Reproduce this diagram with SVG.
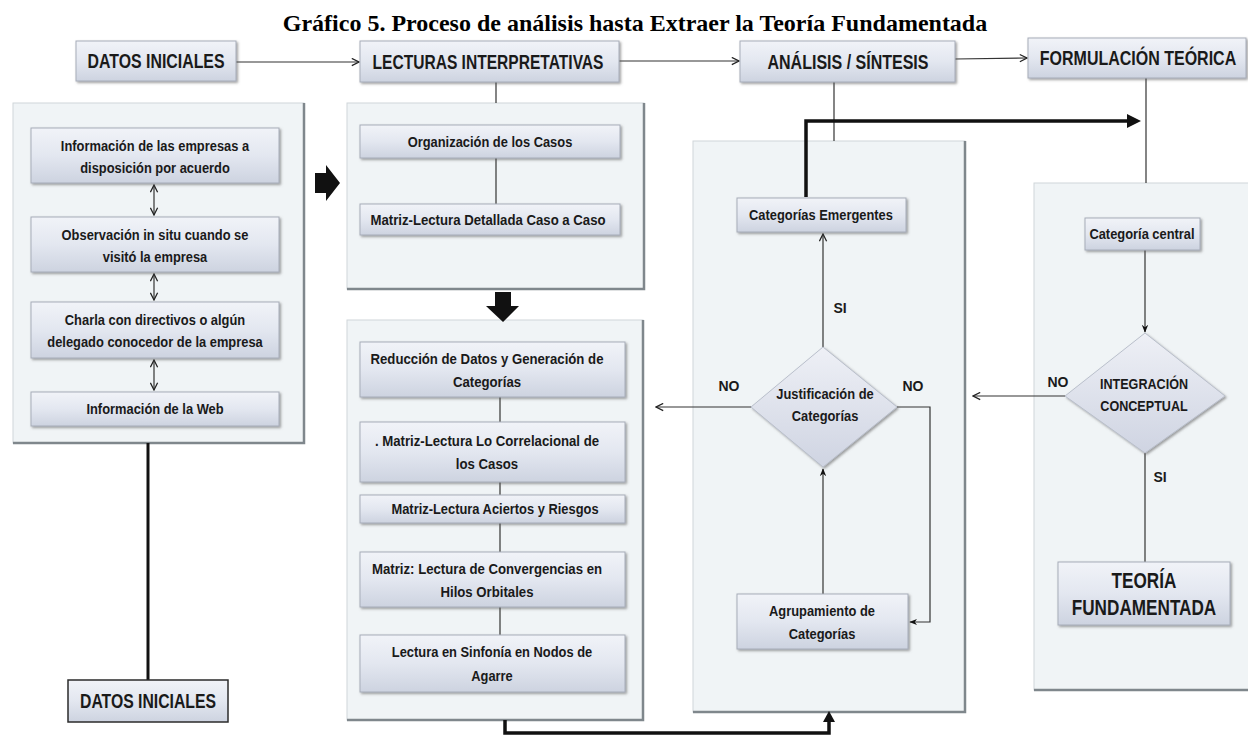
<svg xmlns="http://www.w3.org/2000/svg" width="1248" height="738" viewBox="0 0 1248 738">
  <defs>
    <linearGradient id="boxFill" x1="0" y1="0" x2="0" y2="1">
      <stop offset="0" stop-color="#f1f3f8"/>
      <stop offset="0.5" stop-color="#e3e7f0"/>
      <stop offset="1" stop-color="#cdd3e0"/>
    </linearGradient>
    <linearGradient id="diaFill" x1="0" y1="0" x2="0" y2="1">
      <stop offset="0" stop-color="#eef0f6"/>
      <stop offset="1" stop-color="#cfd4e2"/>
    </linearGradient>
    <filter id="shadow" x="-10%" y="-10%" width="120%" height="130%">
      <feDropShadow dx="1.5" dy="1.5" stdDeviation="1" flood-color="#555" flood-opacity="0.55"/>
    </filter>
    <marker id="arrowOpen" viewBox="0 0 10 10" refX="9" refY="5" markerWidth="9" markerHeight="9" orient="auto-start-reverse" markerUnits="userSpaceOnUse">
      <path d="M1,1 L9,5 L1,9" fill="none" stroke="#222" stroke-width="1.4"/>
    </marker>
    <marker id="arrowSolid" viewBox="0 0 10 10" refX="9" refY="5" markerWidth="8" markerHeight="8" orient="auto-start-reverse" markerUnits="userSpaceOnUse">
      <path d="M0,1 L10,5 L0,9 L3,5 Z" fill="#111"/>
    </marker>
  </defs>
  <style>
    .title { font-family: "Liberation Serif", "Times New Roman", serif; font-weight: bold; font-size: 24px; fill: #000; }
    .hdr { font-family: "Liberation Sans", Arial, sans-serif; font-weight: bold; font-size: 20px; fill: #1a1a1a; text-anchor: middle; }
    .t text { font-family: "Liberation Sans", Arial, sans-serif; font-weight: bold; font-size: 15px; fill: #1a1a1a; text-anchor: middle; }
    .big text { font-family: "Liberation Sans", Arial, sans-serif; font-weight: bold; font-size: 22px; fill: #1a1a1a; text-anchor: middle; }
    .lbl { font-family: "Liberation Sans", Arial, sans-serif; font-weight: bold; font-size: 14px; fill: #1a1a1a; text-anchor: middle; }
    .box { fill: url(#boxFill); stroke: #a7adb9; stroke-width: 1; filter: url(#shadow); }
    .boxDark { fill: url(#boxFill); stroke: #2b2b2b; stroke-width: 1.5; }
    .panel { fill: #f0f4f6; stroke: #cfd5d9; stroke-width: 1; }
    .pedge { fill: none; stroke: #7f878c; stroke-width: 2.5; }
    .dia { fill: url(#diaFill); stroke: #b9bfcb; stroke-width: 1; filter: url(#shadow); }
    .thin { fill: none; stroke: #333; stroke-width: 1.2; }
    .thick { fill: none; stroke: #111; stroke-width: 3.5; }
  </style>

  <rect width="1248" height="738" fill="#ffffff"/>

  <text class="title" x="635" y="31" text-anchor="middle">Gráfico 5. Proceso de análisis hasta Extraer la Teoría Fundamentada</text>

  <!-- panels -->
  <g id="panel-datos">
    <rect class="panel" x="13" y="103" width="291" height="340"/>
    <path class="pedge" d="M304,103 V443 H13"/>
  </g>
  <g id="panel-lecturas-1">
    <rect class="panel" x="347" y="103" width="297" height="186"/>
    <path class="pedge" d="M644,103 V289 H347"/>
  </g>
  <g id="panel-lecturas-2">
    <rect class="panel" x="347" y="320" width="296" height="400"/>
    <path class="pedge" d="M643,320 V720 H347"/>
  </g>
  <g id="panel-analisis">
    <rect class="panel" x="693" y="141" width="272" height="571"/>
    <path class="pedge" d="M965,141 V712 H693"/>
  </g>
  <g id="panel-formulacion">
    <rect class="panel" x="1034" y="183" width="220" height="507"/>
    <path class="pedge" d="M1034,690 H1248"/>
  </g>

  <!-- connectors -->
  <g id="connectors">
    <line class="thin" x1="236" y1="62" x2="359" y2="62" marker-end="url(#arrowOpen)"/>
    <line class="thin" x1="619" y1="61" x2="739" y2="61" marker-end="url(#arrowOpen)"/>
    <line class="thin" x1="955" y1="59" x2="1027" y2="58" marker-end="url(#arrowOpen)"/>

    <line class="thin" x1="496" y1="82" x2="496" y2="103"/>
    <line class="thin" x1="496" y1="158" x2="496" y2="204"/>
    <line class="thin" x1="834" y1="82" x2="834" y2="141"/>
    <line class="thin" x1="1146" y1="78" x2="1146" y2="183"/>

    <!-- double arrows in the data panel -->
    <line class="thin" x1="154" y1="185" x2="154" y2="215" marker-start="url(#arrowOpen)" marker-end="url(#arrowOpen)"/>
    <line class="thin" x1="154" y1="274" x2="154" y2="300" marker-start="url(#arrowOpen)" marker-end="url(#arrowOpen)"/>
    <line class="thin" x1="154" y1="360" x2="154" y2="390" marker-start="url(#arrowOpen)" marker-end="url(#arrowOpen)"/>

    <line x1="148" y1="443" x2="148" y2="680" stroke="#111" stroke-width="3"/>

    <!-- chain inside the lower reading panel -->
    <line class="thin" x1="500" y1="397" x2="500" y2="422"/>
    <line class="thin" x1="500" y1="482" x2="500" y2="495"/>
    <line class="thin" x1="500" y1="523" x2="500" y2="552"/>
    <line class="thin" x1="500" y1="607" x2="500" y2="635"/>

    <!-- block arrows -->
    <path d="M315,173 H326 V165 L340,183 L326,201 V193 H315 Z" fill="#111"/>
    <path d="M495,292 H511 V306 H519 L503,322 L486,306 H495 Z" fill="#111"/>

    <!-- bottom return bracket -->
    <polyline class="thick" points="505,720 505,733 829,733 829,716"/>
    <path d="M823,722 L829,711 L835,722 Z" fill="#111"/>

    <!-- emergent categories to theoretical formulation -->
    <polyline class="thick" points="806,197 806,121 1128,121"/>
    <path d="M1127,114 L1141,121 L1127,128 Z" fill="#111"/>

    <!-- analysis flow -->
    <line class="thin" x1="823" y1="347" x2="823" y2="234" marker-end="url(#arrowOpen)"/>
    <line class="thin" x1="751" y1="407" x2="656" y2="407" marker-end="url(#arrowOpen)"/>
    <polyline class="thin" points="897,407 930,407 930,622 910,622" marker-end="url(#arrowSolid)"/>
    <line class="thin" x1="823" y1="594" x2="823" y2="469" marker-end="url(#arrowSolid)"/>

    <!-- formulation flow -->
    <line class="thin" x1="1145" y1="250" x2="1145" y2="332" marker-end="url(#arrowSolid)"/>
    <line class="thin" x1="1065" y1="396" x2="973" y2="396" marker-end="url(#arrowOpen)"/>
    <line class="thin" x1="1145" y1="453" x2="1145" y2="562"/>
  </g>

  <!-- header nodes -->
  <g id="hdr-datos">
    <rect class="box" x="76" y="41" width="160" height="40"/>
    <text class="hdr" x="156" y="68" textLength="137" lengthAdjust="spacingAndGlyphs">DATOS INICIALES</text>
  </g>
  <g id="hdr-lecturas">
    <rect class="box" x="360" y="41" width="259" height="41"/>
    <text class="hdr" x="488" y="69" textLength="231" lengthAdjust="spacingAndGlyphs">LECTURAS INTERPRETATIVAS</text>
  </g>
  <g id="hdr-analisis">
    <rect class="box" x="740" y="41" width="215" height="41"/>
    <text class="hdr" x="848" y="69" textLength="161" lengthAdjust="spacingAndGlyphs">ANÁLISIS / SÍNTESIS</text>
  </g>
  <g id="hdr-formulacion">
    <rect class="box" x="1028" y="38" width="218" height="40"/>
    <g transform="translate(1138 0) scale(0.8 1)">
      <text class="hdr" x="0" y="65">FORMULACIÓN TEÓRICA</text>
    </g>
  </g>

  <!-- data sources -->
  <g id="n-info-empresas">
    <rect class="box" x="31" y="128" width="248" height="55"/>
    <g class="t" transform="translate(155 0) scale(0.86 1)">
      <text x="0" y="151">Información de las empresas a</text>
      <text x="0" y="173">disposición por acuerdo</text>
    </g>
  </g>
  <g id="n-observacion">
    <rect class="box" x="31" y="217" width="248" height="55"/>
    <g class="t" transform="translate(155 0) scale(0.86 1)">
      <text x="0" y="240">Observación in situ cuando se</text>
      <text x="0" y="262">visitó la empresa</text>
    </g>
  </g>
  <g id="n-charla">
    <rect class="box" x="31" y="302" width="248" height="56"/>
    <g class="t" transform="translate(155 0) scale(0.86 1)">
      <text x="0" y="325">Charla con directivos o algún</text>
      <text x="0" y="347">delegado conocedor de la empresa</text>
    </g>
  </g>
  <g id="n-web">
    <rect class="box" x="31" y="392" width="248" height="34"/>
    <g class="t" transform="translate(155 0) scale(0.86 1)">
      <text x="0" y="414">Información de la Web</text>
    </g>
  </g>
  <g id="n-datos-final">
    <rect class="boxDark" x="68" y="680" width="160" height="42"/>
    <text class="hdr" x="148" y="708" textLength="136" lengthAdjust="spacingAndGlyphs">DATOS INICIALES</text>
  </g>

  <!-- reading steps -->
  <g id="n-organizacion">
    <rect class="box" x="360" y="125" width="260" height="33"/>
    <g class="t" transform="translate(490 0) scale(0.86 1)">
      <text x="0" y="147">Organización de los Casos</text>
    </g>
  </g>
  <g id="n-detallada">
    <rect class="box" x="360" y="204" width="260" height="31"/>
    <g class="t" transform="translate(488 0) scale(0.88 1)">
      <text x="0" y="225">Matriz-Lectura Detallada Caso a Caso</text>
    </g>
  </g>
  <g id="n-reduccion">
    <rect class="box" x="360" y="342" width="265" height="55"/>
    <g class="t" transform="translate(487 0) scale(0.88 1)">
      <text x="0" y="364">Reducción de Datos y Generación de</text>
      <text x="0" y="387">Categorías</text>
    </g>
  </g>
  <g id="n-correlacional">
    <rect class="box" x="360" y="422" width="265" height="60"/>
    <g class="t" transform="translate(487 0) scale(0.88 1)">
      <text x="0" y="446">. Matriz-Lectura Lo Correlacional de</text>
      <text x="0" y="469">los Casos</text>
    </g>
  </g>
  <g id="n-aciertos">
    <rect class="box" x="360" y="495" width="265" height="28"/>
    <g class="t" transform="translate(495 0) scale(0.86 1)">
      <text x="0" y="514">Matriz-Lectura Aciertos y Riesgos</text>
    </g>
  </g>
  <g id="n-convergencias">
    <rect class="box" x="360" y="552" width="265" height="55"/>
    <g class="t" transform="translate(487 0) scale(0.88 1)">
      <text x="0" y="574">Matriz: Lectura de Convergencias en</text>
      <text x="0" y="597">Hilos Orbitales</text>
    </g>
  </g>
  <g id="n-sinfonia">
    <rect class="box" x="360" y="635" width="265" height="57"/>
    <g class="t" transform="translate(492 0) scale(0.86 1)">
      <text x="0" y="657">Lectura en Sinfonía en Nodos de</text>
      <text x="0" y="681">Agarre</text>
    </g>
  </g>

  <!-- analysis / synthesis -->
  <g id="n-emergentes">
    <rect class="box" x="737" y="198" width="169" height="34"/>
    <g class="t" transform="translate(821 0) scale(0.86 1)">
      <text x="0" y="220">Categorías Emergentes</text>
    </g>
  </g>
  <g id="n-justificacion">
    <polygon class="dia" points="823,347 897,407 823,467 751,407"/>
    <g class="t" transform="translate(825 0) scale(0.86 1)">
      <text x="0" y="399">Justificación  de</text>
      <text x="0" y="421">Categorías</text>
    </g>
  </g>
  <g id="n-agrupamiento">
    <rect class="box" x="737" y="594" width="171" height="55"/>
    <g class="t" transform="translate(822 0) scale(0.86 1)">
      <text x="0" y="616">Agrupamiento de</text>
      <text x="0" y="639">Categorías</text>
    </g>
  </g>
  <text class="lbl" x="840" y="313">SI</text>
  <text class="lbl" x="729" y="391">NO</text>
  <text class="lbl" x="913" y="391">NO</text>

  <!-- theoretical formulation -->
  <g id="n-central">
    <rect class="box" x="1085" y="218" width="115" height="32"/>
    <g class="t" transform="translate(1142 0) scale(0.86 1)">
      <text x="0" y="239">Categoría central</text>
    </g>
  </g>
  <g id="n-integracion">
    <polygon class="dia" points="1145,333 1225,396 1145,453 1065,396"/>
    <g class="t" transform="translate(1144 0) scale(0.84 1)">
      <text x="0" y="389">INTEGRACIÓN</text>
      <text x="0" y="411">CONCEPTUAL</text>
    </g>
  </g>
  <g id="n-teoria">
    <rect class="box" x="1058" y="562" width="172" height="63"/>
    <g class="big" transform="translate(1144 0) scale(0.78 1)">
      <text x="0" y="588">TEORÍA</text>
      <text x="0" y="615">FUNDAMENTADA</text>
    </g>
  </g>
  <text class="lbl" x="1160" y="482">SI</text>
  <text class="lbl" x="1058" y="387">NO</text>
</svg>
